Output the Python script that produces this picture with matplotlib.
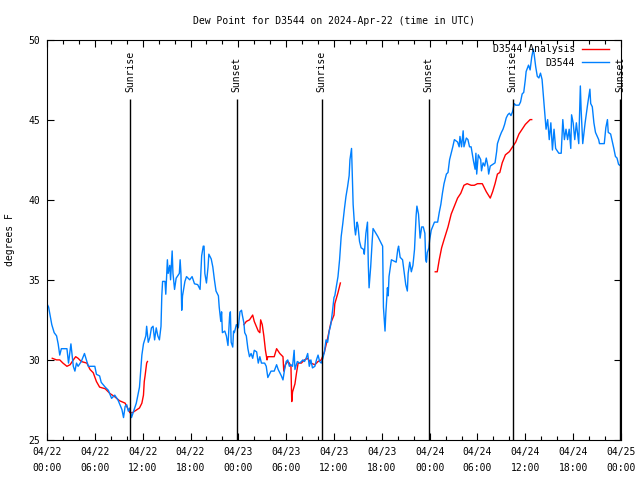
import matplotlib
matplotlib.use('Agg')
import matplotlib.pyplot as plt
import numpy as np

# ---- data (hours since 2024-04-22 00:00 UTC) ----
blue_hours = [0.0, 0.2, 0.6, 0.9, 1.2, 1.4, 1.6, 1.8, 2.5, 2.7, 3.0, 3.3, 3.5, 3.7, 3.9, 4.3, 4.7, 5.0,
              5.2, 5.6, 6.0, 6.2, 6.6, 6.8, 7.3, 7.7, 8.1, 8.5, 8.9, 9.4, 9.6, 9.8, 10.0, 10.2, 10.4,
              10.6, 10.8, 11.2, 11.6, 11.9, 12.1, 12.4, 12.5, 12.7, 12.9, 13.1, 13.3, 13.5, 13.7, 13.9,
              14.1, 14.3, 14.4, 14.5, 14.8, 14.9, 15.1, 15.2, 15.4, 15.5, 15.7, 15.8, 16.0, 16.2, 16.6,
              16.7, 16.8, 16.9, 17.0, 17.3, 17.5, 17.9, 18.2, 18.5, 18.9, 19.2, 19.4, 19.6, 19.7, 19.8,
              20.0, 20.2, 20.3, 20.6, 20.8, 21.0, 21.2, 21.5, 21.6, 21.8, 21.9, 22.0, 22.3, 22.5, 22.7,
              22.9, 23.0, 23.1, 23.3, 23.4, 23.5, 23.75, 24.0, 24.2, 24.4, 24.5, 24.7, 24.8, 25.0, 25.2,
              25.4, 25.6, 25.8, 26.0, 26.3, 26.5, 26.7, 26.9, 27.3, 27.5, 27.7, 27.9, 28.1, 28.5, 28.8,
              29.0, 29.4, 29.6, 29.8, 30.0, 30.2, 30.4, 30.6, 30.8, 31.0, 31.1, 31.4, 31.7, 32.1, 32.3,
              32.5, 32.7, 32.9, 33.1, 33.3, 33.6, 33.8, 34.0, 34.2, 34.4, 34.6, 34.8, 35.0, 35.2, 35.4,
              35.6, 35.8, 36.0, 36.1, 36.3, 36.5, 36.7, 36.9, 37.1, 37.3, 37.5, 37.7, 37.9, 38.0, 38.2,
              38.3, 38.4, 38.6, 38.7, 38.9, 39.0, 39.2, 39.4, 39.7, 39.8, 40.0, 40.2, 40.3, 40.4, 40.6,
              40.8, 40.9, 41.5, 41.9, 42.1, 42.2, 42.4, 42.5, 42.7, 42.8, 42.9, 43.2, 43.8, 44.0, 44.1,
              44.3, 44.6, 44.8, 45.0, 45.2, 45.3, 45.5, 45.7, 45.9, 46.1, 46.3, 46.4, 46.6, 46.7, 46.8,
              47.0, 47.2, 47.4, 47.5, 47.6, 47.7, 47.9, 48.0, 48.2, 48.6, 49.0, 49.2, 49.4, 49.6, 49.8,
              50.1, 50.3, 50.5, 50.7, 50.9, 51.1, 51.5, 51.7, 51.8, 52.0, 52.2, 52.3, 52.6, 52.8, 53.0,
              53.2, 53.5, 53.7, 53.8, 53.9, 54.1, 54.4, 54.5, 54.7, 54.9, 55.1, 55.3, 55.4, 55.6, 55.9,
              56.2, 56.4, 56.5, 56.8, 57.0, 57.2, 57.4, 57.6, 57.8, 58.0, 58.2, 58.4, 58.6, 58.8, 59.2,
              59.4, 59.6, 59.8, 60.0, 60.1, 60.4, 60.6, 60.8, 61.0, 61.1, 61.3, 61.5, 61.7, 61.9, 62.1,
              62.4, 62.6, 62.8, 63.0, 63.2, 63.4, 63.6, 63.8, 64.2, 64.5, 64.7, 64.9, 65.1, 65.3, 65.5,
              65.7, 65.8, 66.0, 66.2, 66.4, 66.7, 66.9, 67.0, 67.2, 67.5, 67.8, 68.1, 68.2, 68.4, 68.6,
              68.8, 69.2, 69.3, 69.9, 70.1, 70.3, 70.4, 70.7, 71.1, 71.3, 71.5, 71.7, 72.0]
blue_vals = [33.5, 33.3, 32.2, 31.7, 31.5, 31.0, 30.3, 30.7, 30.7, 29.8, 31.0, 29.6, 29.3, 29.8, 29.6, 29.9, 30.4, 29.9,
             29.6, 29.6, 29.6, 29.1, 29.0, 28.6, 28.3, 28.1, 27.6, 27.8, 27.5, 26.9, 26.4, 27.1, 27.2, 26.8, 27.0,
             26.4, 26.7, 27.3, 28.3, 30.3, 31.0, 31.5, 32.1, 31.1, 31.4, 32.0, 32.1, 31.25, 32.0, 31.5,
             31.25, 32.1, 34.0, 34.9, 34.9, 34.1, 36.25, 35.4, 35.9, 35.0, 36.8, 35.4, 34.4, 35.1, 35.4,
             36.25, 35.4, 33.1, 34.0, 34.9, 35.2, 35.0, 35.2, 34.75, 34.7, 34.4, 36.5, 37.1, 37.1, 35.4,
             34.8, 35.8, 36.6, 36.3, 35.8, 35.0, 34.3, 34.0, 33.3, 32.4, 33.0, 31.7, 31.8, 31.5, 30.9,
             32.7, 33.0, 31.1, 30.8, 31.8, 31.7, 32.2, 32.0, 33.0, 33.1, 32.8, 32.3, 31.7, 31.5, 30.7,
             30.2, 30.4, 30.1, 30.6, 30.5, 29.8, 30.2, 29.8, 29.8, 29.6, 28.9, 29.1, 29.3, 29.3, 29.7,
             29.4, 29.0, 28.75, 29.4, 29.9, 30.0, 29.6, 29.7, 29.6, 30.6, 29.4, 29.9, 29.8, 30.0, 29.9,
             30.1, 30.4, 29.6, 30.0, 29.5, 29.6, 30.0, 30.3, 29.9, 29.8, 30.1, 30.5, 31.25, 31.1, 31.8,
             32.2, 33.0, 33.9, 34.0, 34.6, 35.2, 36.25, 37.7, 38.5, 39.4, 40.2, 40.8, 41.5, 42.5, 43.2,
             41.5, 39.7, 38.2, 37.8, 38.6, 38.4, 37.4, 37.0, 36.9, 36.6, 37.9, 38.6, 36.0, 34.5, 35.8,
             37.5, 38.2, 37.7, 37.3, 37.1, 33.3, 31.8, 32.9, 34.5, 34.0, 35.2, 36.25, 36.1, 36.9, 37.1,
             36.4, 36.25, 35.5, 34.7, 34.3, 35.4, 36.1, 35.5, 35.9, 36.9, 39.0, 39.6, 39.1, 38.3, 37.6,
             38.3, 38.3, 37.9, 36.25, 36.1, 36.7, 37.0, 37.5, 38.1, 38.6, 38.6, 39.2, 39.7, 40.4, 41.0,
             41.6, 41.7, 42.5, 42.9, 43.3, 43.75, 43.6, 43.3, 43.95, 43.3, 44.3, 43.3, 43.85, 43.75, 43.3,
             43.3, 42.4, 41.9, 42.9, 41.6, 42.8, 42.5, 41.8, 42.3, 42.1, 42.6, 42.1, 41.6, 42.1, 42.2,
             42.3, 43.0, 43.5, 43.95, 44.2, 44.4, 44.7, 45.1, 45.3, 45.4, 45.25, 45.5, 46.0, 45.9, 45.9,
             46.1, 46.6, 46.7, 47.5, 48.0, 48.4, 48.1, 48.9, 49.4, 49.1, 48.3, 47.7, 47.6, 47.9, 47.5,
             45.6, 44.4, 45.0, 43.75, 44.8, 43.1, 44.4, 43.2, 42.9, 42.9, 45.0, 43.75, 44.4, 43.75, 44.4,
             43.2, 45.3, 44.8, 43.75, 44.8, 43.5, 47.1, 45.6, 43.5, 44.8, 45.9, 46.9, 46.0, 45.8, 44.8,
             44.2, 43.75, 43.5, 43.5, 44.5, 45.0, 44.2, 44.1, 43.2, 42.7, 42.6, 42.2, 42.1]

red_hours = [0.66, 1.2, 1.6, 2.0, 2.5, 2.9, 3.3, 3.6, 3.9, 4.3, 5.0, 5.4, 5.8, 6.2, 6.6, 7.3, 7.9, 8.5,
             9.1, 9.8, 10.1, 10.4, 10.7, 11.0, 11.6, 11.9, 12.1, 12.2, 12.3, 12.5, 12.6,
             np.nan,
             24.7, 25.0, 25.4, 25.8, 26.0, 26.5, 26.7, 26.8, 27.0, 27.2, 27.4, 27.6, 27.7, 28.5, 28.8,
             29.2, 29.6, 29.7, 29.9, 30.2, 30.4, 30.6, 30.7, 30.8, 31.1, 31.3, 31.5, 31.9, 32.3, 32.7,
             33.1, 33.6, 34.0, 34.4, 34.8, 35.2, 35.6, 36.0, 36.1, 36.5, 36.8,
             np.nan,
             48.7, 48.95, 49.2, 49.5, 49.8, 50.3, 50.7, 51.1, 51.5, 51.9, 52.3, 52.7, 53.2, 53.6, 54.0,
             54.6, 55.1, 55.6, 55.9, 56.2, 56.5, 56.8, 57.1, 57.5, 58.0, 58.4, 58.8, 59.2, 59.6, 60.0,
             60.6, 60.8]
red_vals = [30.1, 30.0, 30.0, 29.8, 29.6, 29.7, 30.0, 30.2, 30.1, 29.9, 29.8, 29.4, 29.2, 28.65, 28.3, 28.2, 27.9, 27.7,
            27.45, 27.3, 27.0, 26.7, 26.7, 26.8, 27.0, 27.3, 27.8, 28.65, 29.0, 29.8, 29.9,
            np.nan,
            32.2, 32.4, 32.5, 32.8, 32.4, 31.8, 31.7, 32.5, 32.2, 31.5, 30.6, 30.0, 30.2, 30.2, 30.7,
            30.4, 30.2, 29.3, 29.7, 29.9, 29.8, 29.6, 27.4, 28.0, 28.5, 29.2, 29.8, 29.8, 30.0, 30.1,
            29.8, 29.7, 29.9, 30.0, 30.5, 31.35, 32.3, 32.8, 33.5, 34.2, 34.8,
            np.nan,
            35.5, 35.5, 36.25, 37.0, 37.5, 38.3, 39.1, 39.6, 40.1, 40.4, 40.9, 41.0, 40.9, 40.9, 41.0,
            41.0, 40.5, 40.1, 40.5, 41.0, 41.6, 41.7, 42.3, 42.8, 43.0, 43.3, 43.6, 44.1, 44.4, 44.7,
            45.0, 45.0]

sun_hours = [10.43, 23.79, 34.47, 47.87, 58.4, 71.9]
sun_labels = ['Sunrise', 'Sunset', 'Sunrise', 'Sunset', 'Sunrise', 'Sunset']

xtick_hours = list(range(0, 73, 6))
xtick_labels = ['04/22\n00:00', '04/22\n06:00', '04/22\n12:00', '04/22\n18:00',
                '04/23\n00:00', '04/23\n06:00', '04/23\n12:00', '04/23\n18:00',
                '04/24\n00:00', '04/24\n06:00', '04/24\n12:00', '04/24\n18:00',
                '04/25\n00:00']
ytick_vals = [25, 30, 35, 40, 45, 50]

plt.rcParams['font.family'] = ['DejaVu Sans Mono', 'DejaVu Sans']
plt.rcParams['font.size'] = 7

fig = plt.figure(figsize=(6.4, 4.8), dpi=100)
ax = fig.add_axes([47 / 640, 40 / 480, 574 / 640, 400.5 / 480])

ax.plot(red_hours, red_vals, color='#ff0000', lw=1.0, label='D3544 Analysis')
ax.plot(blue_hours, blue_vals, color='#0080ff', lw=1.0, label='D3544')

ax.vlines(sun_hours, 25, 46.3, colors='black', lw=1.0)
for h, lab in zip(sun_hours, sun_labels):
    ax.text(h, 46.75, lab, rotation=90, ha='center', va='bottom', fontsize=7, clip_on=False)

ax.set_xlim(0, 72)
ax.set_ylim(25, 50)
ax.set_xticks(xtick_hours)
ax.set_xticklabels(xtick_labels, linespacing=1.7)
ax.set_xticks(list(range(0, 73, 2)), minor=True)
ax.set_yticks(ytick_vals)
ax.tick_params(axis='both', which='both', direction='in', top=True, right=True, labelsize=7)
ax.tick_params(axis='both', which='major', length=5, width=0.8)
ax.tick_params(axis='x', which='minor', length=3, width=0.8)
ax.tick_params(axis='x', which='major', pad=5)
ax.tick_params(axis='y', which='major', pad=5)

ax.set_title('Dew Point for D3544 on 2024-Apr-22 (time in UTC)', fontsize=7, pad=11)
ax.set_ylabel('degrees F', fontsize=7)
ax.yaxis.set_label_coords(-0.0557, 0.5)

leg = ax.legend(loc='upper right', bbox_to_anchor=((609 - 47) / 574, 0.988), frameon=False,
                markerfirst=False, handlelength=2.8, handletextpad=0.7, labelspacing=0.35,
                borderpad=0, borderaxespad=0, fontsize=7)

fig.savefig('out.png', dpi=100)
